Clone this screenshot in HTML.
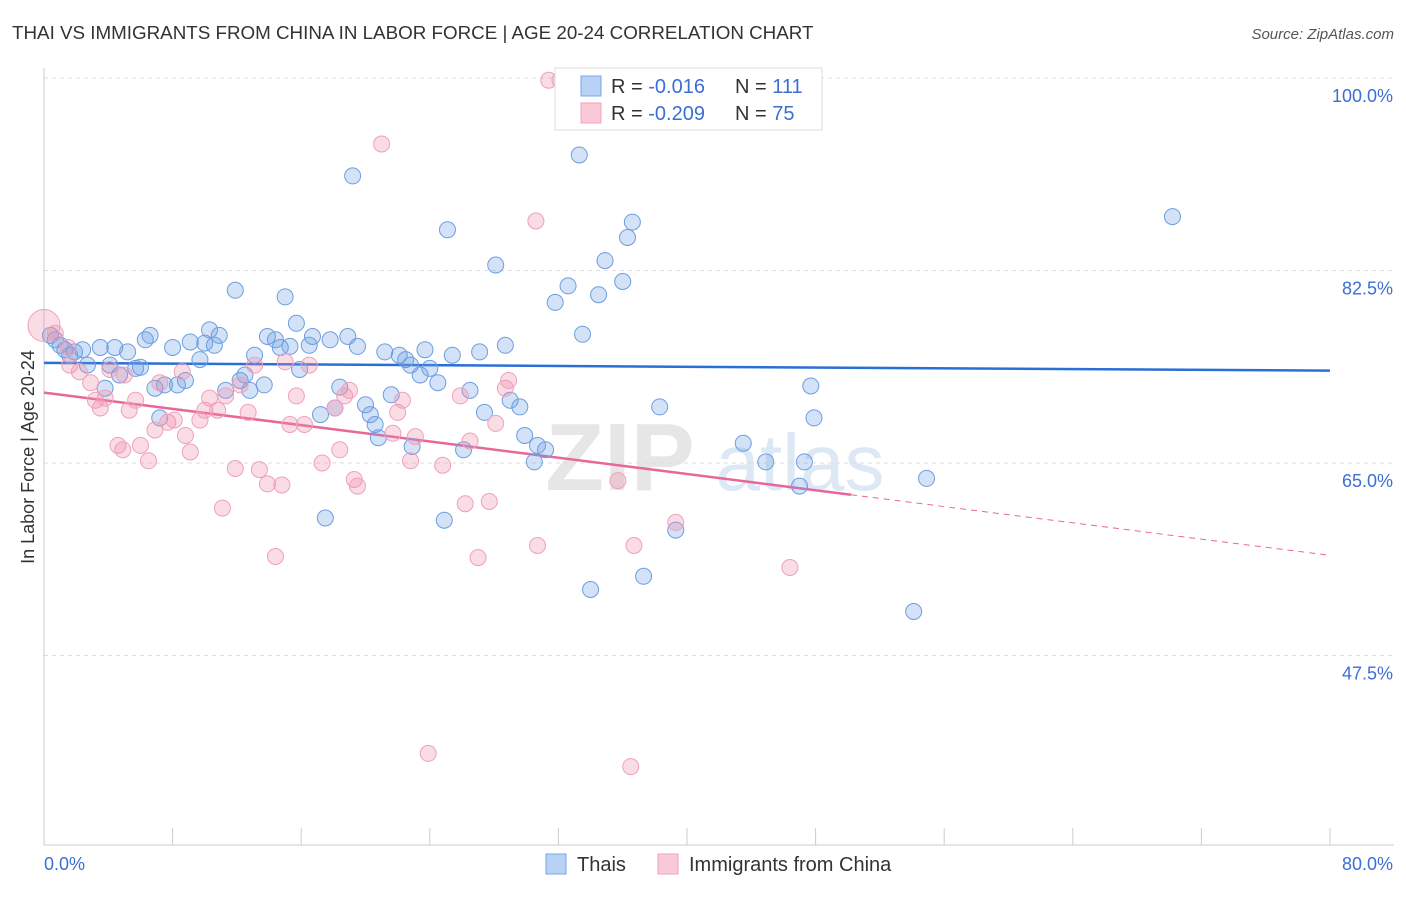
<!DOCTYPE html>
<html><head><meta charset="utf-8"><style>
body{margin:0;background:#fff;font-family:"Liberation Sans",sans-serif;}
svg text{font-family:"Liberation Sans",sans-serif;}
</style></head><body>
<svg id="chart" width="1406" height="892">
<text x="12" y="39" font-size="18.8" fill="#333">THAI VS IMMIGRANTS FROM CHINA IN LABOR FORCE | AGE 20-24 CORRELATION CHART</text>
<text x="1394" y="39" font-size="15" fill="#555" font-style="italic" text-anchor="end">Source: ZipAtlas.com</text>
<text x="620" y="490" font-size="96" font-weight="bold" fill="#e6e6e6" text-anchor="middle">ZIP</text>
<text x="800" y="490" font-size="80" fill="#dde8f5" text-anchor="middle">atlas</text>
<g id="grid"></g><g id="axes"></g><g id="trends"></g><g id="pts"></g>
<text transform="translate(34,457) rotate(-90)" font-size="18" fill="#333" text-anchor="middle">In Labor Force | Age 20-24</text>
<g>
<rect x="555" y="68" width="267" height="62" fill="#fff" stroke="#ddd"/>
<rect x="581" y="76" width="20" height="20" fill="#b7d2f4" stroke="#7aa6e4"/>
<rect x="581" y="103" width="20" height="20" fill="#fac9d8" stroke="#f0a3bc"/>
<text x="611" y="93" font-size="20" fill="#333">R = <tspan fill="#3b6fd4">-0.016</tspan></text>
<text x="735" y="93" font-size="20" fill="#333">N = <tspan fill="#3b6fd4">111</tspan></text>
<text x="611" y="120" font-size="20" fill="#333">R = <tspan fill="#3b6fd4">-0.209</tspan></text>
<text x="735" y="120" font-size="20" fill="#333">N = <tspan fill="#3b6fd4">75</tspan></text>
</g>
<g>
<rect x="546" y="854" width="20" height="20" fill="#b7d2f4" stroke="#7aa6e4"/>
<text x="577" y="871" font-size="20" fill="#333">Thais</text>
<rect x="658" y="854" width="20" height="20" fill="#fac9d8" stroke="#f0a3bc"/>
<text x="689" y="871" font-size="20" fill="#333">Immigrants from China</text>
</g>
</svg>
<script>
const yTicks=[100,82.5,65,47.5];
const yTickLabels=["100.0%","82.5%","65.0%","47.5%"];
const xTickCount=10;
const thaiX=[.4,.7,1.0,1.3,1.6,1.9,2.4,2.7,3.5,3.8,4.1,4.4,4.7,5.2,5.7,6.0,6.3,6.6,6.9,7.2,7.5,8.0,8.3,8.8,9.1,9.7,10.0,10.3,10.6,10.9,11.3,11.9,12.2,12.5,12.8,13.1,13.7,13.9,14.4,14.7,15.0,15.3,15.7,15.9,16.5,16.7,17.2,17.5,17.8,18.1,18.4,18.9,19.2,19.5,20.0,20.3,20.6,20.8,21.2,21.6,22.1,22.5,22.8,22.9,23.4,23.7,24.0,24.5,24.9,25.1,25.4,26.1,26.5,27.1,27.4,28.1,28.7,29.0,29.6,29.9,30.5,30.7,31.2,31.8,32.6,33.3,33.5,34.0,34.5,34.9,36.0,36.3,36.6,37.3,38.3,39.3,43.5,44.9,47.0,47.3,47.7,47.9,54.1,54.9,70.2,33.0,38.9,41.4];
const thaiY=[76.6,76.2,75.7,75.3,74.8,75.1,75.3,73.9,75.5,71.8,73.9,75.5,73.0,75.1,73.6,73.7,76.2,76.6,71.8,69.1,72.1,75.5,72.1,72.5,76.0,74.4,75.9,77.1,75.7,76.6,71.6,80.7,72.5,73.0,71.6,74.8,72.1,76.5,76.2,75.5,80.1,75.6,77.7,73.5,75.7,76.5,69.4,60.0,76.2,70.0,71.9,76.5,91.1,75.6,70.3,69.4,68.5,67.3,75.1,71.2,74.8,74.4,73.9,66.5,73.0,75.3,73.6,72.3,59.8,86.2,74.8,66.2,71.6,75.1,69.6,83.0,75.7,70.7,70.1,67.5,65.1,66.6,66.2,79.6,81.1,93.0,76.7,53.5,80.3,83.4,81.5,85.5,86.9,54.7,70.1,58.9,66.8,65.1,62.9,65.1,72.0,69.1,51.5,63.6,87.4,99.8,99.8,99.8];
const chinaX=[0,.7,1.5,1.6,2.2,2.9,3.2,3.5,3.8,4.1,4.6,4.9,5.0,5.3,5.7,6.0,6.5,6.9,7.2,7.7,8.1,8.6,8.8,9.1,9.7,10.0,10.3,10.8,11.1,11.3,11.9,12.2,12.7,13.1,13.4,13.9,14.4,14.8,15.0,15.3,15.7,16.2,16.5,17.3,18.1,18.4,18.7,19.0,19.3,19.5,21.0,21.7,22.0,22.3,22.8,23.1,23.9,24.8,25.9,26.2,26.5,27.0,27.7,28.1,28.7,28.9,30.6,30.7,31.4,32.1,35.7,36.5,36.7,39.3,46.4];
const chinaY=[77.5,76.8,75.5,73.9,73.3,72.3,70.7,70.0,70.9,73.5,66.6,66.2,73.0,69.8,70.7,66.6,65.2,68.0,72.3,68.7,68.9,73.3,67.5,66.0,68.9,69.8,70.9,69.8,60.9,71.1,64.5,72.1,69.6,73.9,64.4,63.1,56.5,63.0,74.2,68.5,71.1,68.5,73.9,65.0,70.0,66.2,71.1,71.6,63.5,62.9,94.0,67.7,69.6,70.7,65.2,67.4,38.6,64.8,71.1,61.3,67.0,56.4,61.5,68.6,71.8,72.5,87.0,57.5,99.8,99.8,63.4,37.4,57.5,59.6,55.5];
const thaiTrend=[74.1,73.4];
const chinaTrend=[71.4,56.6];
const chinaSolidEnd=50.2;

const NS="http://www.w3.org/2000/svg";
const X=v=>44+v/80*1286;
const Y=v=>78+(100-v)/17.5*192.5;
function mk(tag,attrs,parent){const e=document.createElementNS(NS,tag);for(const k in attrs)e.setAttribute(k,attrs[k]);document.getElementById(parent).appendChild(e);return e;}
yTicks.forEach((t,i)=>{
  const l=mk('line',{x1:44,x2:1394,y1:Y(t),y2:Y(t),stroke:'#ddd','stroke-dasharray':'4,4'},'grid');
  
  
  const tx=mk('text',{x:1393,y:Y(t)+24,'font-size':18,fill:'#3b6fd4','text-anchor':'end'},'grid');
  tx.textContent=yTickLabels[i];
  
  
});
const ax=mk('line',{x1:44,x2:1394,y1:845,y2:845,stroke:'#ccc'},'axes');


const ay=mk('line',{x1:44,x2:44,y1:68,y2:845,stroke:'#ccc'},'axes');


for(let i=0;i<=xTickCount;i++){
  const tk=mk('line',{x1:X(i*8),x2:X(i*8),y1:828,y2:845,stroke:'#ccc'},'axes');
  
  
}
const xl0=mk('text',{x:44,y:870,'font-size':18,fill:'#3b6fd4'},'axes');xl0.textContent='0.0%';


const xl1=mk('text',{x:1393,y:870,'font-size':18,fill:'#3b6fd4','text-anchor':'end'},'axes');xl1.textContent='80.0%';



thaiX.forEach((x,i)=>{
  const c=mk('circle',{cx:X(x),cy:Y(thaiY[i]),r:8,fill:'rgba(110,160,230,0.3)',stroke:'#6d9de0','stroke-width':1},'pts');
  
  
});
chinaX.forEach((x,i)=>{
  const c=mk('circle',{cx:X(x),cy:Y(chinaY[i]),r:i===0?16:8,fill:'rgba(240,140,170,0.3)',stroke:'#f0a0bb','stroke-width':1},'pts');
  
  
});
const bt=mk('line',{x1:X(0),y1:Y(thaiTrend[0]),x2:X(80),y2:Y(thaiTrend[1]),stroke:'#2a6fd6','stroke-width':2.5},'trends');


const cy=v=>chinaTrend[0]+(chinaTrend[1]-chinaTrend[0])*v/80;
const pt=mk('line',{x1:X(0),y1:Y(cy(0)),x2:X(chinaSolidEnd),y2:Y(cy(chinaSolidEnd)),stroke:'#e8679a','stroke-width':2.5},'trends');


const pd=mk('line',{x1:X(chinaSolidEnd),y1:Y(cy(chinaSolidEnd)),x2:X(80),y2:Y(cy(80)),stroke:'#e8679a','stroke-width':1,'stroke-dasharray':'6,5'},'trends');


</script>
</body></html>
